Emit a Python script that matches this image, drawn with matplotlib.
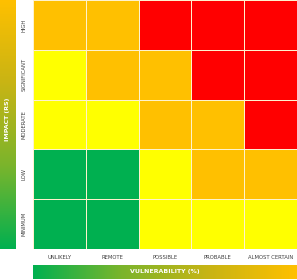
import numpy as np
import matplotlib.pyplot as plt
from matplotlib.colors import ListedColormap, LinearSegmentedColormap

# Risk matrix data
likelihood = ['UNLIKELY', 'REMOTE', 'POSSIBLE', 'PROBABLE', 'ALMOST CERTAIN']
impact = ['HIGH', 'SIGNIFICANT', 'MODERATE', 'LOW', 'MINIMUM']  # top to bottom

# 0 = green, 1 = yellow, 2 = orange, 3 = red
risk_high = [2, 2, 3, 3, 3]
risk_significant = [1, 2, 2, 3, 3]
risk_moderate = [1, 1, 2, 2, 3]
risk_low = [0, 0, 1, 2, 2]
risk_minimum = [0, 0, 1, 1, 1]

grid = np.array([risk_high, risk_significant, risk_moderate, risk_low, risk_minimum])
cmap = ListedColormap(['#00b050', '#ffff00', '#ffc000', '#ff0000'])

W, H = 297, 280
fig = plt.figure(figsize=(W / 100, H / 100), dpi=100)

# main grid
ax = fig.add_axes([33 / W, 31 / H, 264 / W, 249 / H])
ax.pcolormesh(grid, cmap=cmap, vmin=-0.5, vmax=3.5, edgecolors='#fff2cc', linewidth=0.6)
ax.set_xlim(0, 5)
ax.set_ylim(5, 0)
ax.set_xticks([])
ax.set_yticks([])
for s in ax.spines.values():
    s.set_visible(False)

for i, lab in enumerate(likelihood):
    ax.text(i + 0.5, 5.17, lab, ha='center', va='center', fontsize=3.8, color='#404040')
for j, lab in enumerate(impact):
    ax.text(-0.17, j + 0.5, lab, ha='center', va='center', rotation=90, fontsize=3.8, color='#404040')

# left gradient bar (impact)
grad_cmap = LinearSegmentedColormap.from_list('g', ['#00b050', '#7ab52c', '#c8b414', '#ffc000'])
axl = fig.add_axes([0, 31 / H, 16 / W, 249 / H])
axl.imshow(np.linspace(1, 0, 256).reshape(-1, 1), cmap=grad_cmap, aspect='auto', extent=[0, 1, 0, 1])
axl.text(0.5, 0.52, 'IMPACT (RS)', ha='center', va='center', rotation=90,
         fontsize=4.5, fontweight='bold', color='white')
axl.axis('off')

# bottom gradient bar (vulnerability)
axb = fig.add_axes([33 / W, 1 / H, 264 / W, 14 / H])
axb.imshow(np.linspace(0, 1, 256).reshape(1, -1), cmap=grad_cmap, aspect='auto', extent=[0, 1, 0, 1])
axb.text(0.5, 0.5, 'VULNERABILITY (%)', ha='center', va='center',
         fontsize=4.5, fontweight='bold', color='white')
axb.axis('off')

fig.savefig('out.png', dpi=100)
